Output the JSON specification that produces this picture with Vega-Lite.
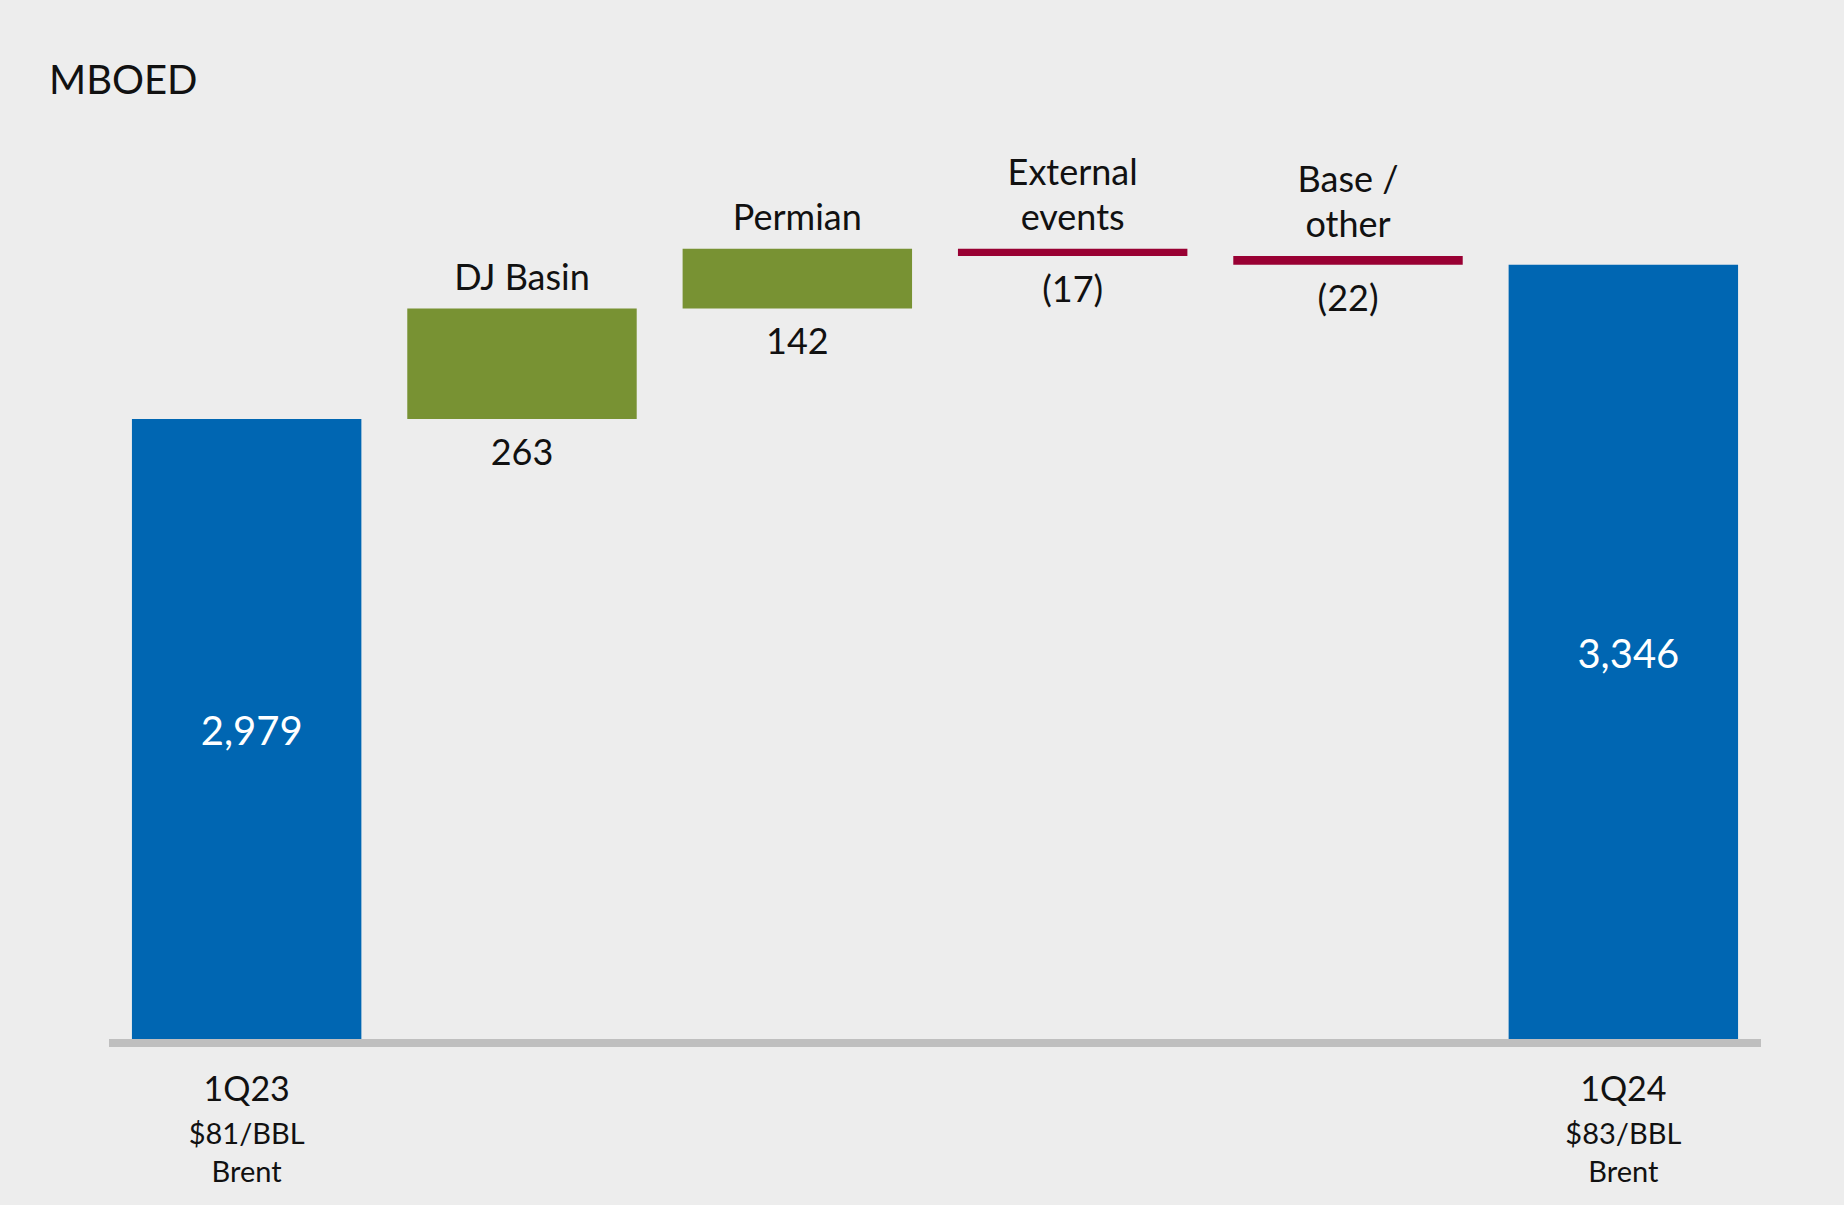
{
  "$schema": "https://vega.github.io/schema/vega-lite/v6.json",
  "width": 1652,
  "height": 939,
  "autosize": {"type": "none"},
  "padding": {"left": 109, "top": 100, "right": 83, "bottom": 166},
  "background": "#EDEDED",
  "config": {"view": {"stroke": null}, "font": "Lato"},
  "title": {"text": "MBOED", "anchor": "start", "frame": "group", "dx": -60, "dy": 40, "offset": 6, "baseline": "alphabetic", "fontSize": 40, "fontWeight": "normal", "color": "#111111", "font": "Lato"},
  "data": {"values": [
    {"cat": "1Q23", "name": "", "low": 0, "high": 2979, "kind": "total", "val": "2,979", "sub": "$81/BBL\nBrent"},
    {"cat": "DJ Basin", "name": "\nDJ Basin", "low": 2979, "high": 3242, "kind": "up", "val": "263", "sub": ""},
    {"cat": "Permian", "name": "\nPermian", "low": 3242, "high": 3384, "kind": "up", "val": "142", "sub": ""},
    {"cat": "External events", "name": "External\nevents", "low": 3367, "high": 3384, "kind": "down", "val": "(17)", "sub": ""},
    {"cat": "Base / other", "name": "Base /\nother", "low": 3346, "high": 3367, "kind": "down", "val": "(22)", "sub": ""},
    {"cat": "1Q24", "name": "", "low": 0, "high": 3346, "kind": "total", "val": "3,346", "sub": "$83/BBL\nBrent"}
  ]},
  "layer": [
    {
      "mark": {"type": "bar", "cornerRadius": 0},
      "encoding": {
        "x": {"field": "cat", "type": "nominal", "sort": null, "axis": null, "scale": {"paddingInner": 0.1667, "paddingOuter": 0.0833}},
        "y": {"field": "low", "type": "quantitative", "axis": null, "scale": {"domain": [1504, 3738], "clamp": true, "zero": false, "nice": false}},
        "y2": {"field": "high"},
        "color": {"field": "kind", "type": "nominal", "legend": null,
                  "scale": {"domain": ["total", "up", "down"], "range": ["#0066B2", "#789233", "#990033"]}}
      }
    },
    {
      "mark": {"type": "rule", "color": "#BFBFBF", "strokeWidth": 8, "yOffset": 4},
      "encoding": {
        "y": {"datum": 1504, "type": "quantitative", "axis": null, "scale": {"domain": [1504, 3738], "clamp": true, "zero": false, "nice": false}}
      }
    },
    {
      "transform": [{"filter": "datum.kind != 'total'"}],
      "mark": {"type": "text", "baseline": "bottom", "align": "center", "dy": -55.5, "fontSize": 36, "lineBreak": "\n", "lineHeight": 45, "color": "#111111"},
      "encoding": {
        "x": {"field": "cat", "type": "nominal", "sort": null, "axis": null, "scale": {"paddingInner": 0.1667, "paddingOuter": 0.0833}},
        "y": {"field": "high", "type": "quantitative", "axis": null, "scale": {"domain": [1504, 3738], "clamp": true, "zero": false, "nice": false}},
        "text": {"field": "name"}
      }
    },
    {
      "transform": [{"filter": "datum.kind != 'total'"}],
      "mark": {"type": "text", "baseline": "top", "align": "center", "dy": 18, "fontSize": 36, "color": "#111111"},
      "encoding": {
        "x": {"field": "cat", "type": "nominal", "sort": null, "axis": null, "scale": {"paddingInner": 0.1667, "paddingOuter": 0.0833}},
        "y": {"field": "low", "type": "quantitative", "axis": null, "scale": {"domain": [1504, 3738], "clamp": true, "zero": false, "nice": false}},
        "text": {"field": "val"}
      }
    },
    {
      "transform": [{"filter": "datum.kind == 'total'"}],
      "mark": {"type": "text", "baseline": "middle", "align": "center", "dy": 4, "dx": 5, "fontSize": 40, "color": "#FFFFFF"},
      "encoding": {
        "x": {"field": "cat", "type": "nominal", "sort": null, "axis": null, "scale": {"paddingInner": 0.1667, "paddingOuter": 0.0833}},
        "y": {"field": "high", "type": "quantitative", "axis": null, "scale": {"domain": [1504, 5972], "zero": false, "nice": false}},
        "text": {"field": "val"}
      }
    },
    {
      "transform": [{"filter": "datum.kind == 'total'"}],
      "mark": {"type": "text", "baseline": "alphabetic", "align": "center", "dy": 62.4, "fontSize": 34, "color": "#111111"},
      "encoding": {
        "x": {"field": "cat", "type": "nominal", "sort": null, "axis": null, "scale": {"paddingInner": 0.1667, "paddingOuter": 0.0833}},
        "y": {"field": "low", "type": "quantitative", "axis": null, "scale": {"domain": [1504, 3738], "clamp": true, "zero": false, "nice": false}},
        "text": {"field": "cat"}
      }
    },
    {
      "transform": [{"filter": "datum.kind == 'total'"}],
      "mark": {"type": "text", "baseline": "top", "align": "center", "dy": 82, "fontSize": 29, "lineBreak": "\n", "lineHeight": 38.4, "color": "#111111"},
      "encoding": {
        "x": {"field": "cat", "type": "nominal", "sort": null, "axis": null, "scale": {"paddingInner": 0.1667, "paddingOuter": 0.0833}},
        "y": {"field": "low", "type": "quantitative", "axis": null, "scale": {"domain": [1504, 3738], "clamp": true, "zero": false, "nice": false}},
        "text": {"field": "sub"}
      }
    }
  ],
  "resolve": {"scale": {"y": "independent"}}
}
